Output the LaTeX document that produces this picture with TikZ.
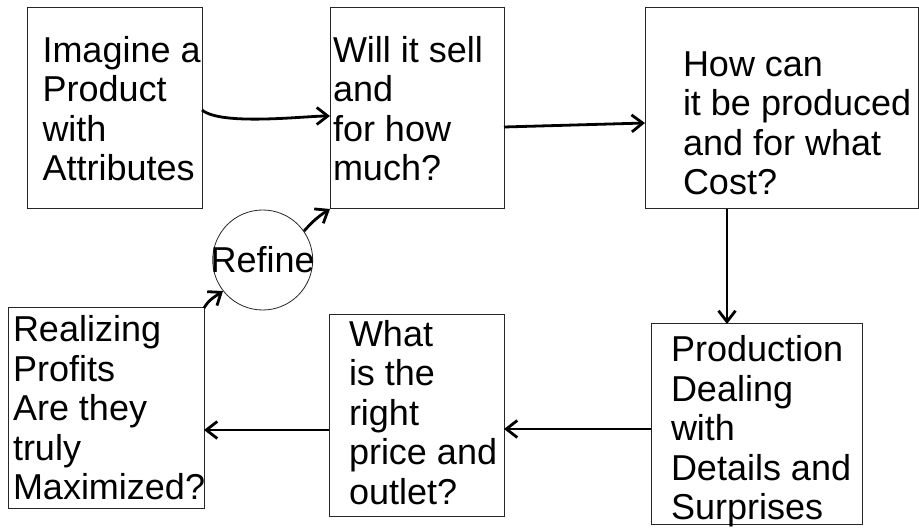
\documentclass[tikz,border=0pt]{standalone}
\usepackage{fontspec}
\setmainfont{Liberation Sans}
\usepackage{tikz}
\usetikzlibrary{positioning,arrows.meta}
\hyphenpenalty=10000

\begin{document}
\begin{tikzpicture}[
    x=1pt, y=1pt,
    box/.style={rectangle, draw=black!85, line width=1pt, outer sep=0pt, inner ysep=0pt, align=flush left, font=\fontsize{36}{39.5}\selectfont, execute at begin node={\spaceskip=10pt\relax}},
    flow/.style={line width=2.8pt, -{Straight Barb[length=11pt,width=17pt]}}
]
    \useasboundingbox (0,0) rectangle (919,-529);

    % top row
    \node[box, minimum width=175pt, minimum height=201pt, inner xsep=15.5pt, text width=144pt] (imagine) at (114.5,-108.5) {Imagine~a\\Product\\with\\Attributes};
    \node[box, minimum width=174pt, minimum height=201pt, inner xsep=3pt, text width=168pt, right=128pt of imagine] (sell) {Will~it~sell\\and\\for~how\\much?};
    \node[box, minimum width=273pt, minimum height=201pt, inner xsep=38pt, text width=197pt, text height=54pt, right=141pt of sell] (cost) {How~can\\it~be~produced\\and~for~what\\Cost?};

    % bottom row
    \node[box, minimum width=211pt, minimum height=200pt, inner xsep=20pt, text width=171pt, text height=37pt, text depth=161.6pt, below=115pt of cost, xshift=-25pt] (prod) {Production\\Dealing\\with\\Details~and\\Surprises};
    \node[box, minimum width=175pt, minimum height=201pt, inner xsep=20pt, text width=135pt, text depth=165pt, left=147pt of prod, yshift=8.5pt] (what) {What\\is~the\\right\\price~and\\outlet?};
    \node[box, minimum width=196pt, minimum height=200pt, inner xsep=5pt, text width=186pt, left=125pt of what, yshift=7.5pt] (profits) {Realizing\\Profits\\Are~they\\truly\\Maximized?};

    % feedback loop
    \node[circle, draw=black!85, line width=0.8pt, inner sep=0pt, minimum size=100pt, font=\fontsize{36}{39.5}\selectfont] (refine) at (262.7,-260) {\makebox[0pt]{Refine}};

    \draw[flow] ([yshift=-1.5pt]imagine.east) to[out=-40,in=180,looseness=0.5] ([yshift=-7.5pt]sell.west);
    \draw[flow] ([yshift=-18.5pt]sell.east) -- ([yshift=-14.5pt]cost.west);
    \draw[flow] ([xshift=-54.5pt]cost.south) -- ([xshift=-54.5pt]cost.south |- prod.north);
    \draw[flow] ([yshift=-5pt]prod.west) -- ([yshift=-5pt]prod.west -| what.east);
    \draw[flow] ([yshift=-14.5pt]what.west) -- ([yshift=-14.5pt]what.west -| profits.east);
    \draw[flow] (profits.north east) to[out=60,in=215] (refine.218);
    \draw[flow] (refine.35) to[bend left=8] (sell.south west);
\end{tikzpicture}
\end{document}
